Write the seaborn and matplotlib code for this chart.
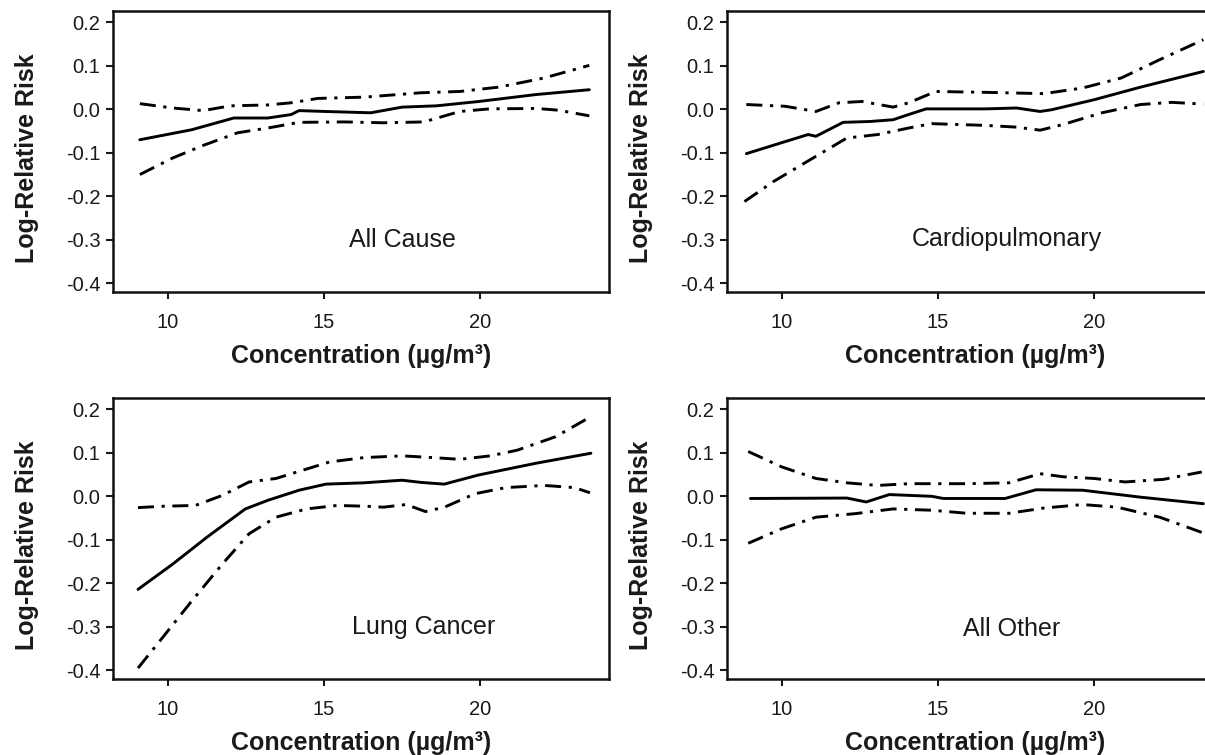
import matplotlib
matplotlib.use("Agg")
import matplotlib.pyplot as plt
import seaborn as sns
import pandas as pd

# ---------------- data ----------------
panel_names = ["All Cause", "Cardiopulmonary", "Lung Cancer", "All Other"]

# All Cause
ac_est_x = [9.1, 10.76, 12.11, 13.2, 13.95, 14.2, 15.05, 16.5, 17.5, 18.6, 19.96, 21.8, 23.5]
ac_est_y = [-0.070, -0.047, -0.020, -0.020, -0.012, -0.003, -0.005, -0.008, 0.005, 0.008, 0.018, 0.034, 0.045]
ac_up_x = [9.1, 10.15, 11.13, 12.0, 13.2, 13.95, 14.8, 16.3, 18.1, 19.35, 20.6, 22.05, 23.5]
ac_up_y = [0.013, 0.003, -0.003, 0.008, 0.010, 0.015, 0.025, 0.028, 0.038, 0.041, 0.051, 0.072, 0.101]
ac_lo_x = [9.1, 10.15, 11.13, 12.23, 13.2, 14.2, 15.66, 16.9, 18.2, 19.35, 20.3, 21.8, 22.5, 23.5]
ac_lo_y = [-0.150, -0.112, -0.083, -0.054, -0.043, -0.030, -0.029, -0.031, -0.029, -0.005, 0.001, 0.002, -0.002, -0.015]

# Cardiopulmonary
cp_est_x = [8.86, 9.98, 10.84, 11.09, 11.96, 12.82, 13.56, 14.06, 14.62, 16.53, 17.52, 18.27, 18.64, 20.0, 21.49, 23.5]
cp_est_y = [-0.102, -0.077, -0.058, -0.062, -0.030, -0.028, -0.024, -0.012, 0.001, 0.001, 0.003, -0.005, -0.001, 0.022, 0.051, 0.087]
cp_up_x = [8.86, 10.1, 11.09, 11.83, 12.57, 13.56, 14.06, 14.93, 16.53, 18.39, 19.63, 20.87, 22.1, 23.5]
cp_up_y = [0.011, 0.007, -0.005, 0.015, 0.018, 0.005, 0.015, 0.041, 0.039, 0.036, 0.049, 0.072, 0.114, 0.160]
cp_lo_x = [8.8, 9.73, 11.09, 12.08, 13.07, 14.06, 14.8, 16.53, 17.52, 18.27, 19.0, 20.25, 21.49, 22.48, 23.5]
cp_lo_y = [-0.212, -0.166, -0.108, -0.066, -0.058, -0.043, -0.033, -0.037, -0.041, -0.048, -0.035, -0.008, 0.011, 0.016, 0.012]

# Lung Cancer
lc_est_x = [9.04, 10.15, 11.25, 12.48, 13.21, 14.2, 15.06, 16.27, 17.5, 18.1, 18.85, 19.95, 21.79, 23.55]
lc_est_y = [-0.214, -0.156, -0.094, -0.029, -0.009, 0.014, 0.028, 0.031, 0.037, 0.032, 0.028, 0.049, 0.076, 0.099]
lc_up_x = [9.04, 9.78, 10.88, 11.74, 12.6, 13.46, 14.32, 15.18, 16.28, 17.5, 18.49, 19.35, 20.33, 21.19, 22.42, 23.52]
lc_up_y = [-0.026, -0.023, -0.021, 0.002, 0.033, 0.041, 0.060, 0.079, 0.089, 0.093, 0.089, 0.085, 0.093, 0.106, 0.137, 0.182]
lc_lo_x = [9.04, 9.78, 10.76, 11.74, 12.6, 13.46, 14.44, 15.42, 16.4, 16.9, 17.63, 18.25, 18.86, 19.84, 20.82, 22.05, 23.03, 23.52]
lc_lo_y = [-0.395, -0.329, -0.241, -0.156, -0.086, -0.048, -0.029, -0.021, -0.023, -0.025, -0.019, -0.035, -0.025, 0.006, 0.020, 0.025, 0.020, 0.008]

# All Other
ao_est_x = [8.99, 12.08, 12.7, 13.44, 14.8, 15.17, 17.15, 18.14, 19.63, 21.49, 23.5]
ao_est_y = [-0.005, -0.004, -0.013, 0.004, 0.000, -0.005, -0.005, 0.015, 0.014, -0.002, -0.017]
ao_up_x = [8.92, 9.98, 11.09, 12.08, 13.07, 14.06, 15.92, 17.28, 18.27, 19.0, 20.0, 20.99, 22.23, 23.45]
ao_up_y = [0.103, 0.068, 0.041, 0.031, 0.025, 0.029, 0.029, 0.031, 0.052, 0.045, 0.041, 0.033, 0.039, 0.056]
ao_lo_x = [8.92, 9.98, 11.09, 12.33, 13.56, 14.8, 15.92, 17.28, 18.39, 19.63, 20.74, 22.1, 23.45]
ao_lo_y = [-0.108, -0.075, -0.048, -0.040, -0.029, -0.032, -0.039, -0.039, -0.027, -0.019, -0.025, -0.048, -0.083]

label_pos_x = [17.5, 17.2, 18.2, 17.35]
label_pos_y = [-0.300, -0.298, -0.300, -0.306]

x_ticks = [10, 15, 20]
y_ticks = [0.2, 0.1, 0.0, -0.1, -0.2, -0.3, -0.4]
x_label = "Concentration (µg/m³)"
y_label = "Log-Relative Risk"

panels = [
    (ac_est_x, ac_est_y, ac_up_x, ac_up_y, ac_lo_x, ac_lo_y),
    (cp_est_x, cp_est_y, cp_up_x, cp_up_y, cp_lo_x, cp_lo_y),
    (lc_est_x, lc_est_y, lc_up_x, lc_up_y, lc_lo_x, lc_lo_y),
    (ao_est_x, ao_est_y, ao_up_x, ao_up_y, ao_lo_x, ao_lo_y),
]

# ---------------- style ----------------
sns.set_style("ticks")
plt.rcParams["font.family"] = ["Liberation Sans", "DejaVu Sans"]
plt.rcParams["axes.unicode_minus"] = False

W, H = 1205, 755
fig = plt.figure(figsize=(W / 100, H / 100), dpi=100)

# axes rectangles in pixels: (left, top, right, bottom)
rects_px = [(113, 11, 609, 292), (727, 11, 1223, 292),
            (113, 398, 609, 679), (727, 398, 1223, 679)]

LW = 2.1
dashdot = (0, (5.5, 2.6, 1.1, 2.6))
txt_col = "#1a1a1a"

for i, (name, pdata, rp) in enumerate(zip(panel_names, panels, rects_px)):
    l, t, r, b = rp
    ax = fig.add_axes([l / W, 1 - b / H, (r - l) / W, (b - t) / H])
    ex, ey, ux, uy, lx, ly = pdata
    sns.lineplot(x=ex, y=ey, ax=ax, color="black", lw=LW, estimator=None)
    sns.lineplot(x=ux, y=uy, ax=ax, color="black", lw=LW, linestyle=dashdot, estimator=None)
    sns.lineplot(x=lx, y=ly, ax=ax, color="black", lw=LW, linestyle=dashdot, estimator=None)

    ax.set_xlim(8.24, 24.13)
    ax.set_ylim(-0.42, 0.226)
    ax.set_xticks(x_ticks)
    ax.set_xticklabels([str(v) for v in x_ticks])
    ax.set_yticks(y_ticks)
    ax.set_yticklabels([f"{v:.1f}" for v in y_ticks])
    ax.tick_params(axis="both", direction="out", length=5, width=1.5,
                   colors=txt_col, labelsize=14.5)
    ax.tick_params(axis="x", pad=10)
    ax.tick_params(axis="y", pad=4)
    for s in ax.spines.values():
        s.set_linewidth(1.8)
        s.set_color("#111111")
        s.set_visible(True)

    ax.set_xlabel(x_label, fontsize=18, fontweight="bold", color=txt_col)
    ax.set_ylabel(y_label, fontsize=18, fontweight="bold", color=txt_col)
    hpx = b - t
    wpx = r - l
    ax.xaxis.set_label_coords(0.5, -(64.0 / hpx))
    ax.xaxis.label.set_verticalalignment("center")
    ax.yaxis.set_label_coords(-(86.0 / wpx), 0.475)
    ax.yaxis.label.set_verticalalignment("center")
    ax.yaxis.label.set_horizontalalignment("center")

    ax.text(label_pos_x[i], label_pos_y[i], name, fontsize=18,
            ha="center", va="center", color=txt_col)
    ax.grid(False)

fig.savefig("out.png", dpi=100, facecolor="white")
